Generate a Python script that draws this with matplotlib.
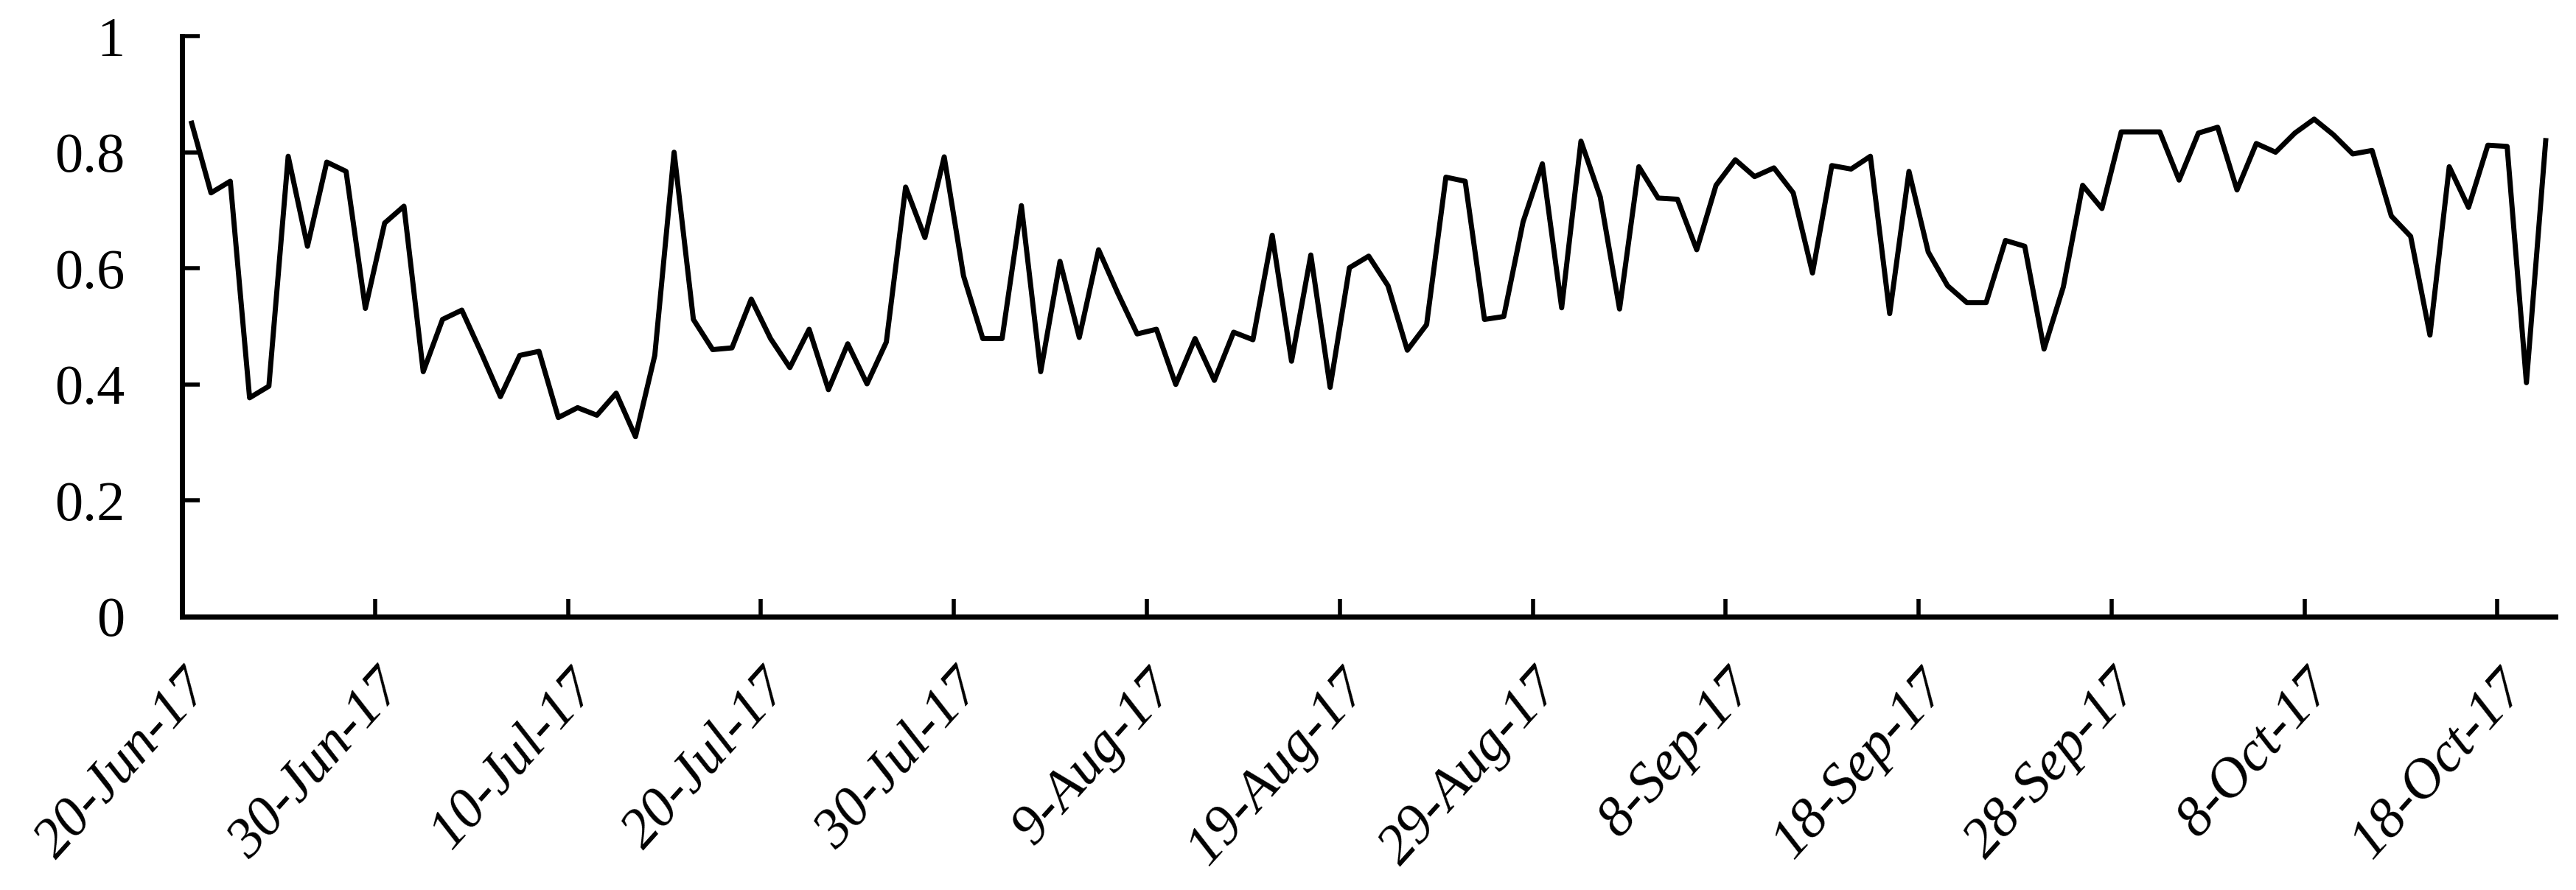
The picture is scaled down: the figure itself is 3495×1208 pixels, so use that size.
import matplotlib
matplotlib.use("Agg")
import matplotlib.pyplot as plt
import matplotlib.dates as mdates
import pandas as pd
import numpy as np

start_date = "2017-06-20"
values = [
    0.85, 0.73, 0.75, 0.377, 0.397, 0.793, 0.638, 0.783, 0.767, 0.531,
    0.678, 0.707, 0.422, 0.512, 0.528, 0.455, 0.379, 0.45, 0.457, 0.343,
    0.36, 0.347, 0.385, 0.31, 0.45, 0.80, 0.512, 0.46, 0.463, 0.547,
    0.479, 0.429, 0.495, 0.391, 0.47, 0.401, 0.473, 0.74, 0.653, 0.792,
    0.587, 0.479, 0.479, 0.708, 0.422, 0.612, 0.481, 0.632, 0.557, 0.487,
    0.495, 0.40, 0.479, 0.407, 0.49, 0.477, 0.657, 0.44, 0.623, 0.395,
    0.601, 0.621, 0.57, 0.459, 0.503, 0.757, 0.75, 0.512, 0.517, 0.68,
    0.78, 0.532, 0.819, 0.723, 0.53, 0.775, 0.721, 0.719, 0.632, 0.743,
    0.787, 0.758, 0.773, 0.73, 0.592, 0.777, 0.771, 0.793, 0.522, 0.767,
    0.628, 0.57, 0.541, 0.541, 0.648, 0.638, 0.461, 0.568, 0.743, 0.703,
    0.835, 0.835, 0.835, 0.752, 0.833, 0.843, 0.735, 0.815, 0.80, 0.833,
    0.857, 0.83, 0.797, 0.803, 0.69, 0.655, 0.485, 0.775, 0.705, 0.812,
    0.81, 0.403, 0.82,
]
dates = pd.date_range(start_date, periods=len(values), freq="D")
tick_dates = pd.date_range(start_date, periods=13, freq="10D")
tick_labels = ["20-Jun-17", "30-Jun-17", "10-Jul-17", "20-Jul-17", "30-Jul-17",
               "9-Aug-17", "19-Aug-17", "29-Aug-17", "8-Sep-17", "18-Sep-17",
               "28-Sep-17", "8-Oct-17", "18-Oct-17"]
y_ticks = [0, 0.2, 0.4, 0.6, 0.8, 1.0]
y_labels = ["0", "0.2", "0.4", "0.6", "0.8", "1"]

plt.rcParams['font.family'] = ['Liberation Serif', 'DejaVu Serif']

fig = plt.figure(figsize=(34.95, 12.08), dpi=100)
ax = fig.add_axes([247/3495, 1 - 837/1208, (3467-247)/3495, (837-49)/1208])

# points sit in the middle of each day slot (Excel date axis style)
xpos = mdates.date2num(dates) + 0.5
ax.plot(xpos, values, color="black", linewidth=5, solid_joinstyle="round")

ax.set_xlim(mdates.date2num(dates[0]), mdates.date2num(dates[-1]) + 1)
ax.set_ylim(0, 1)

ax.set_xticks(mdates.date2num(tick_dates))
ax.set_xticklabels(tick_labels, rotation=48, ha="right", va="top",
                   rotation_mode="anchor", fontsize=55, style="italic")
ax.set_yticks(y_ticks)
ax.set_yticklabels(y_labels, fontsize=55)

for s in ["top", "right"]:
    ax.spines[s].set_visible(False)
for s in ["left", "bottom"]:
    ax.spines[s].set_linewidth(5)
    ax.spines[s].set_capstyle("projecting")

ax.tick_params(axis="x", direction="in", length=17, width=4, pad=44)
ax.tick_params(axis="y", direction="in", length=17, width=4, pad=56)

fig.savefig("out.png", dpi=100, facecolor="white")
